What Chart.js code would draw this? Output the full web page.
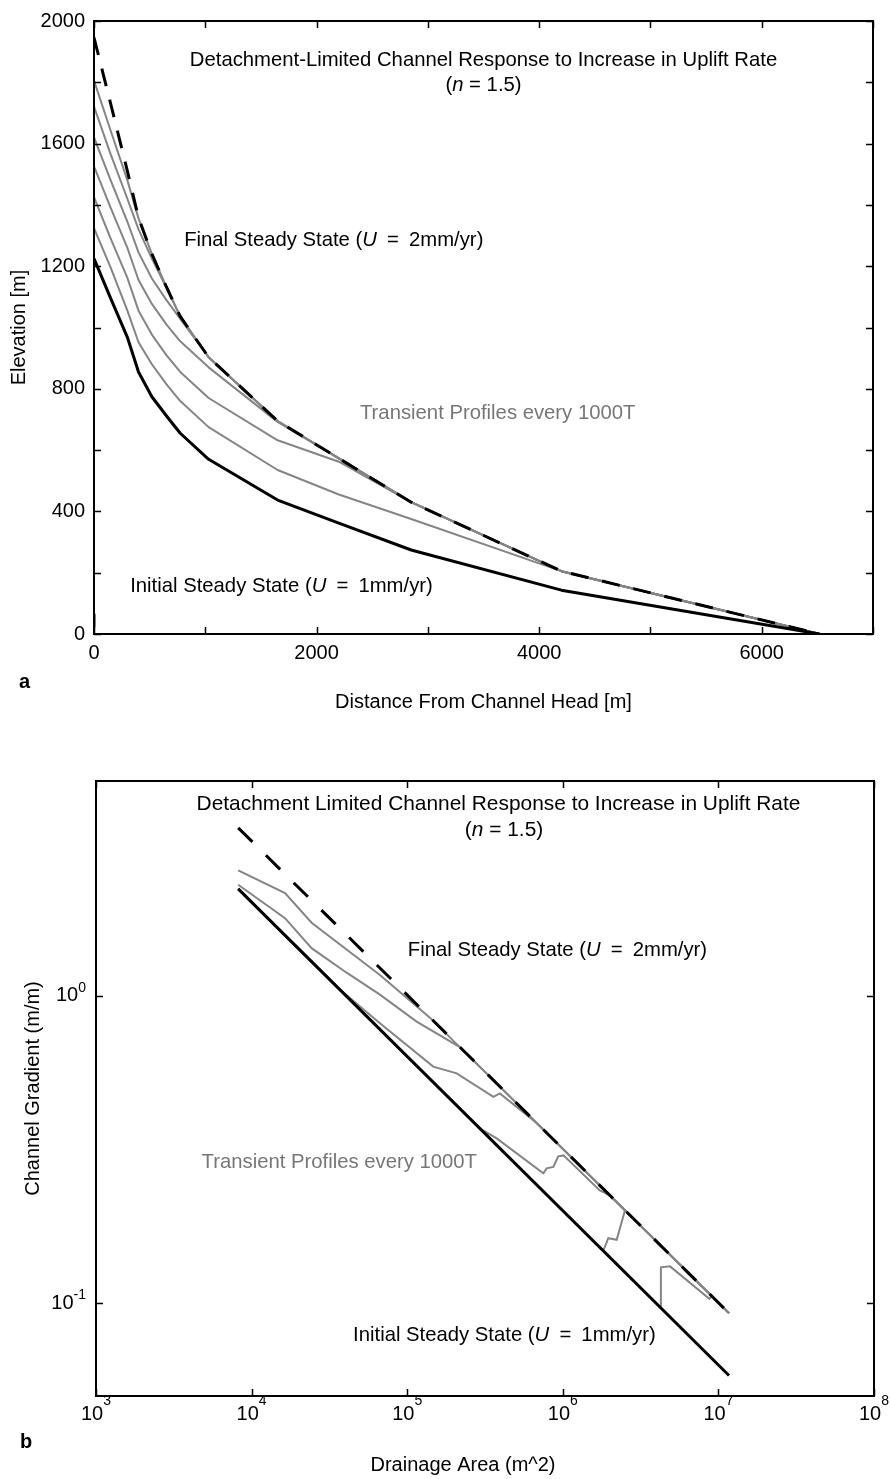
<!DOCTYPE html>
<html>
<head>
<meta charset="utf-8">
<title>Detachment-limited channel response to increase in uplift rate</title>
<script src="https://cdn.jsdelivr.net/npm/chart.js@4.4.1/dist/chart.umd.min.js"></script>
<style>
    html, body { margin: 0; padding: 0; background: #fff; }
    #page { position: relative; width: 890px; height: 1479px; background: #fff; }
    #page canvas { position: absolute; left: 0; }
    #profileChart { top: 0; }
    #slopeChart { top: 720px; }
</style>
</head>
<body>
<div id="page">
    <canvas id="profileChart" width="890" height="720"></canvas>
    <canvas id="slopeChart" width="890" height="759"></canvas>
</div>
<script>
// ---- panel a: long profiles (elevation vs distance from channel head) ----
const distance = [0, 150, 300, 400, 520, 650, 775, 1030, 1650, 2200, 2850, 4200, 6520];
const initialElevation = [1225, 1095, 968, 855, 774, 712, 655, 570, 437, 362, 274, 143, 0];
const finalElevation = [1946, 1730, 1510, 1358, 1240, 1133, 1036, 903, 695, 573, 430, 205, 0];
const profile1 = [1806, 1642, 1480, 1356, 1240, 1133, 1036, 903, 695, 573, 430, 205, 0];
const profile2 = [1721, 1565, 1420, 1320, 1225, 1130, 1036, 903, 695, 573, 430, 205, 0];
const profile3 = [1620, 1480, 1345, 1245, 1160, 1090, 1028, 903, 695, 573, 430, 205, 0];
const profile4 = [1526, 1390, 1260, 1155, 1077, 1010, 955, 870, 692, 573, 430, 205, 0];
const profile5 = [1425, 1290, 1162, 1055, 977, 910, 855, 770, 632, 562, 430, 205, 0];
const profile6 = [1324, 1195, 1055, 952, 880, 815, 760, 675, 535, 455, 375, 205, 0];
const headMarkDistance = [0, 0];
const headMarkElevation = [22, 66];

// ---- panel b: slope-area (channel gradient vs drainage area) ----
const steadyArea = [8.2e3, 1.17e7];
const initialSlope = [2.23, 0.0583];
const finalSlope = [3.52, 0.093];
const slope1Area = [8.2e3, 4.22e6, 4.27e6, 4.89e6, 8.75e6, 9.06e6, 1.17e7];
const slope1 = [2.23, 0.0973, 0.131, 0.132, 0.1035, 0.1057, 0.093];
const slope2Area = [8.2e3, 1.82e6, 1.96e6, 2.22e6, 2.51e6, 1.17e7];
const slope2 = [2.23, 0.1483, 0.163, 0.161, 0.2008, 0.093];
const slope3Area = [8.2e3, 2.94e5, 3.76e5, 7.5e5, 7.87e5, 8.69e5, 9.35e5, 1.01e6, 1.73e6, 2.01e6, 1.17e7];
const slope3 = [2.23, 0.370, 0.344, 0.265, 0.275, 0.278, 0.301, 0.303, 0.233, 0.2245, 0.093];
const slope4Area = [8.2e3, 3.55e4, 6.68e4, 1.47e5, 2.08e5, 3.58e5, 3.94e5, 6.79e5, 1.17e7];
const slope4 = [2.23, 1.068, 0.815, 0.589, 0.560, 0.470, 0.482, 0.386, 0.093];
const slope5Area = [8.2e3, 1.64e4, 2.43e4, 4.08e4, 6.68e4, 1.15e5, 2.18e5, 1.17e7];
const slope5 = [2.30, 1.79, 1.43, 1.19, 1.01, 0.825, 0.682, 0.093];
const slope6Area = [8.2e3, 1.64e4, 2.43e4, 6.68e4, 1.40e5, 1.17e7];
const slope6 = [2.56, 2.16, 1.73, 1.17, 0.850, 0.093];

const FONT = "'Liberation Sans', Arial, Helvetica, sans-serif";
const GRAY = '#858585';
const GRAY_TEXT = '#777777';
const EQ = '\u2002=\u2002';   // TeX-style spacing round "="

Chart.defaults.font.family = FONT;
Chart.defaults.font.size = 20;
Chart.defaults.color = '#000';

function series(xs, ys) {
    return xs.map((x, i) => ({ x: x, y: ys[i] }));
}

// draws "plain _italic_ plain" text, toggling italics on underscores
function drawRich(ctx, text, x, y, align, size) {
    const parts = text.split('_').map((t, i) => ({ text: t, italic: i % 2 === 1 }));
    const widths = parts.map(p => {
        ctx.font = (p.italic ? 'italic ' : '') + size + 'px ' + FONT;
        return ctx.measureText(p.text).width;
    });
    const total = widths.reduce((a, b) => a + b, 0);
    let cx = align === 'center' ? x - total / 2 : x;
    ctx.textAlign = 'left';
    parts.forEach((p, i) => {
        ctx.font = (p.italic ? 'italic ' : '') + size + 'px ' + FONT;
        ctx.fillText(p.text, cx, y);
        cx += widths[i];
    });
}

// box round the plot area with inward tick marks on all four sides
const boxTicks = {
    id: 'boxTicks',
    afterDraw(chart) {
        const { ctx, chartArea: a, scales: { x, y } } = chart;
        const len = 7;
        ctx.save();
        ctx.strokeStyle = '#000';
        ctx.lineWidth = 1.5;
        ctx.beginPath();
        x.ticks.forEach(t => {
            const px = Math.round(x.getPixelForValue(t.value)) + 0.5;
            ctx.moveTo(px, a.bottom); ctx.lineTo(px, a.bottom - len);
            ctx.moveTo(px, a.top); ctx.lineTo(px, a.top + len);
        });
        y.ticks.forEach(t => {
            const py = Math.round(y.getPixelForValue(t.value)) + 0.5;
            ctx.moveTo(a.left, py); ctx.lineTo(a.left + len, py);
            ctx.moveTo(a.right, py); ctx.lineTo(a.right - len, py);
        });
        ctx.stroke();
        ctx.lineWidth = 2;
        ctx.strokeRect(a.left, a.top, a.right - a.left, a.bottom - a.top);
        ctx.restore();
    }
};

// free text: in-plot notes (data coordinates) and canvas labels (pixels)
const notes = {
    id: 'notes',
    afterDraw(chart, args, opts) {
        const { ctx, scales: { x, y } } = chart;
        ctx.save();
        ctx.textBaseline = 'middle';
        (opts.items || []).forEach(n => {
            ctx.fillStyle = n.color || '#000';
            drawRich(ctx, n.text, x.getPixelForValue(n.x), y.getPixelForValue(n.y), n.align, n.size || 20.3);
        });
        (opts.labels || []).forEach(l => {
            ctx.fillStyle = '#000';
            ctx.textBaseline = l.baseline || 'middle';
            ctx.font = (l.bold ? 'bold ' : '') + (l.size || 20) + 'px ' + FONT;
            ctx.textAlign = l.align || 'left';
            ctx.fillText(l.text, l.x, l.y);
        });
        ctx.restore();
    }
};

// "10^n" tick labels for the log axes
const decadeLabels = {
    id: 'decadeLabels',
    afterDraw(chart) {
        const { ctx, chartArea: a, scales: { x, y } } = chart;
        const base = '20px ' + FONT;
        const sup = '14px ' + FONT;
        ctx.save();
        ctx.fillStyle = '#000';
        ctx.textBaseline = 'middle';
        ctx.textAlign = 'left';
        x.ticks.forEach(t => {
            const e = String(Math.round(Math.log10(t.value)));
            ctx.font = base; const wb = ctx.measureText('10').width;
            ctx.font = sup; const we = ctx.measureText(e).width;
            const left = x.getPixelForValue(t.value) - (wb + we) / 2;
            ctx.font = base; ctx.fillText('10', left, a.bottom + 18);
            ctx.font = sup; ctx.fillText(e, left + wb, a.bottom + 5);
        });
        y.ticks.forEach(t => {
            const e = String(Math.round(Math.log10(t.value)));
            const py = y.getPixelForValue(t.value);
            ctx.font = base; const wb = ctx.measureText('10').width;
            ctx.font = sup; const we = ctx.measureText(e).width;
            const left = a.left - 10 - wb - we;
            ctx.font = base; ctx.fillText('10', left, py);
            ctx.font = sup; ctx.fillText(e, left + wb, py - 8);
        });
        ctx.restore();
    }
};

function onlyDecades(scale) {
    scale.ticks = scale.ticks.filter(t => Math.abs(Math.log10(t.value) - Math.round(Math.log10(t.value))) < 1e-6);
}

new Chart(document.getElementById('profileChart'), {
    type: 'line',
    data: {
        datasets: [
            { data: series(distance, finalElevation), borderColor: '#000', borderWidth: 3, borderDash: [18, 14] },
            { data: series(distance, initialElevation), borderColor: '#000', borderWidth: 3 },
            { data: series(headMarkDistance, headMarkElevation), borderColor: '#000', borderWidth: 3 },
            ...[profile1, profile2, profile3, profile4, profile5, profile6].map(p => ({
                data: series(distance, p), borderColor: GRAY, borderWidth: 2
            }))
        ]
    },
    options: {
        responsive: false,
        animation: false,
        devicePixelRatio: 1,
        layout: { padding: { left: 0, right: 17, top: 20, bottom: 0 } },
        elements: {
            point: { radius: 0 },
            line: { tension: 0, fill: false, borderJoinStyle: 'round' }
        },
        plugins: {
            legend: { display: false },
            tooltip: { enabled: false },
            notes: {
                items: [
                    { x: 3500, y: 1870, text: 'Detachment-Limited Channel Response to Increase in Uplift Rate', align: 'center' },
                    { x: 3500, y: 1790, text: '(_n_ = 1.5)', align: 'center' },
                    { x: 810, y: 1285, text: 'Final Steady State (_U_' + EQ + '2mm/yr)' },
                    { x: 2390, y: 720, text: 'Transient Profiles every 1000T', color: GRAY_TEXT },
                    { x: 325, y: 155, text: 'Initial Steady State (_U_' + EQ + '1mm/yr)' }
                ],
                labels: [
                    { text: 'a', x: 19, y: 688, bold: true, baseline: 'alphabetic' }
                ]
            }
        },
        scales: {
            x: {
                type: 'linear', min: 0, max: 7000,
                grid: { display: false, drawTicks: false },
                border: { display: false },
                ticks: {
                    stepSize: 1000, autoSkip: false, maxRotation: 0, padding: 7,
                    callback: v => (v % 2000 === 0 ? v : '')
                },
                title: { display: true, text: 'Distance From Channel Head [m]', padding: { top: 0, bottom: 6 } },
                afterFit: s => { s.height = 86; }
            },
            y: {
                type: 'linear', min: 0, max: 2000,
                grid: { display: false, drawTicks: false },
                border: { display: false },
                ticks: {
                    stepSize: 200, autoSkip: false, padding: 9,
                    callback: v => (v % 400 === 0 ? v : '')
                },
                title: { display: true, text: 'Elevation [m]', padding: { top: 7, bottom: 0 } },
                afterFit: s => { s.width = 94; }
            }
        }
    },
    plugins: [boxTicks, notes]
});

new Chart(document.getElementById('slopeChart'), {
    type: 'line',
    data: {
        datasets: [
            { data: series(steadyArea, finalSlope), borderColor: '#000', borderWidth: 3, borderDash: [20, 19] },
            { data: series(steadyArea, initialSlope), borderColor: '#000', borderWidth: 3 },
            ...[[slope1Area, slope1], [slope2Area, slope2], [slope3Area, slope3],
                [slope4Area, slope4], [slope5Area, slope5], [slope6Area, slope6]].map(([a, s]) => ({
                data: series(a, s), borderColor: GRAY, borderWidth: 2
            }))
        ]
    },
    options: {
        responsive: false,
        animation: false,
        devicePixelRatio: 1,
        layout: { padding: { left: 0, right: 16, top: 61, bottom: 0 } },
        elements: {
            point: { radius: 0 },
            line: { tension: 0, fill: false }
        },
        plugins: {
            legend: { display: false },
            tooltip: { enabled: false },
            notes: {
                items: [
                    { x: 3.86e5, y: 4.19, text: 'Detachment Limited Channel Response to Increase in Uplift Rate', align: 'center', size: 20.9 },
                    { x: 4.19e5, y: 3.47, text: '(_n_ = 1.5)', align: 'center', size: 20.9 },
                    { x: 1.01e5, y: 1.41, text: 'Final Steady State (_U_' + EQ + '2mm/yr)' },
                    { x: 4.77e3, y: 0.288, text: 'Transient Profiles every 1000T', color: GRAY_TEXT },
                    { x: 4.49e4, y: 0.0787, text: 'Initial Steady State (_U_' + EQ + '1mm/yr)' }
                ],
                labels: [
                    { text: 'Drainage Area (m^2)', x: 463, y: 745, align: 'center' },
                    { text: 'b', x: 20, y: 728, bold: true, baseline: 'alphabetic' }
                ]
            }
        },
        scales: {
            x: {
                type: 'logarithmic', min: 1e3, max: 1e8,
                grid: { display: false, drawTicks: false },
                border: { display: false },
                ticks: { display: false },
                afterBuildTicks: onlyDecades,
                afterFit: s => { s.height = 83; }
            },
            y: {
                type: 'logarithmic', min: 0.05, max: 5,
                grid: { display: false, drawTicks: false },
                border: { display: false },
                ticks: { display: false },
                afterBuildTicks: onlyDecades,
                title: { display: true, text: 'Channel Gradient (m/m)', padding: { top: 21, bottom: 0 } },
                afterFit: s => { s.width = 96; }
            }
        }
    },
    plugins: [boxTicks, notes, decadeLabels]
});
</script>
</body>
</html>
